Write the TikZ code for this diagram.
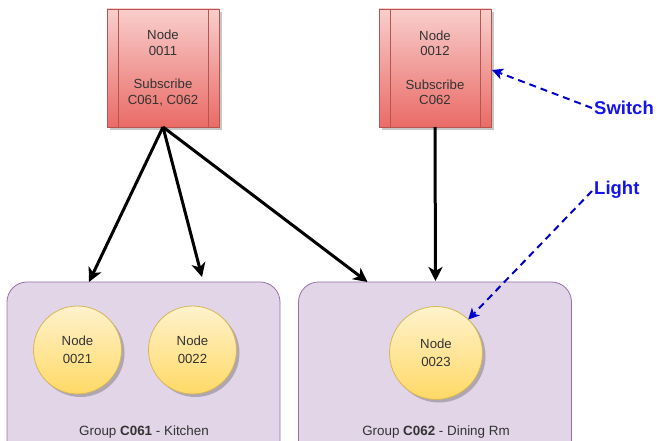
\documentclass[tikz,border=0pt]{standalone}
\usepackage{fontspec}
\setmainfont{Liberation Sans}
\usetikzlibrary{arrows.meta,shadows,calc}
\definecolor{redtop}{RGB}{248,206,204}
\definecolor{redbot}{RGB}{234,107,102}
\definecolor{redline}{RGB}{184,84,80}
\definecolor{yeltop}{RGB}{255,242,204}
\definecolor{yelbot}{RGB}{255,217,102}
\definecolor{yelline}{RGB}{214,182,86}
\definecolor{grpfill}{RGB}{225,213,231}
\definecolor{grpline}{RGB}{150,115,166}
\definecolor{txt}{RGB}{51,51,51}
\definecolor{lblue}{RGB}{0,0,204}
\definecolor{tblue}{RGB}{20,20,235}
\begin{document}
\begin{tikzpicture}[x=1pt,y=-1pt,
  shad/.style={drop shadow={shadow xshift=3pt, shadow yshift=-3pt, fill=black, opacity=0.22}},
  procbox/.style={rectangle, draw=redline, line width=0.8pt, top color=redtop, bottom color=redbot,
    minimum width=112pt, minimum height=118pt, inner sep=0pt, outer sep=0pt, align=center,
    text=txt, font=\fontsize{13.2}{15.5}\selectfont, shad},
  devnode/.style={circle, draw=yelline, line width=0.8pt, top color=yeltop, bottom color=yelbot,
    minimum size=#1, inner sep=0pt, outer sep=0pt, align=center,
    text=txt, font=\fontsize{13.2}{17.5}\selectfont, shad},
  grp/.style={rectangle, rounded corners=20pt, draw=grpline, line width=0.8pt, fill=grpfill,
    minimum width=273pt, minimum height=188pt, inner sep=0pt, outer sep=0pt},
  grplabel/.style={text=txt, font=\fontsize{13.4}{15}\selectfont, inner sep=0pt},
  link/.style={line width=3pt, -{Stealth[length=14pt,width=14pt,inset=4pt]}},
  hint/.style={draw=lblue, line width=2pt, dash pattern=on 7pt off 5pt,
    -{Stealth[length=11pt,width=11pt,inset=3pt,fill=lblue]}},
  hintlabel/.style={text=tblue, font=\fontsize{18.5}{20}\selectfont\bfseries, inner sep=0pt, anchor=west}
]
\useasboundingbox (0,0) rectangle (657,441);
\clip (0,0) rectangle (657,441);

% groups
\node[grp] (g1) at (143.5,376) {};
\node[grp] (g2) at (435,376) {};
\node[grplabel] (g1l) at (144,432) {Group \textbf{C061} - Kitchen};
\node[grplabel] (g2l) at (436,432) {Group \textbf{C062} - Dining Rm};

% device nodes
\node[devnode=88pt] (n21) at (77.5,350) {Node\\0021};
\node[devnode=88pt] (n22) at (192.5,350) {Node\\0022};
\node[devnode=93pt] (n23) at (436,353) {Node\\0023};

% switch nodes
\node[procbox] (n11) at (163,68) {Node\\0011\\[18pt]Subscribe\\C061, C062};
\node[procbox] (n12) at (435,68) {Node\\0012\\[18pt]Subscribe\\C062};
\foreach \n in {n11,n12}{
  \draw[redline, line width=0.8pt] ($(\n.north west)+(11,0)$) -- ($(\n.south west)+(11,0)$);
  \draw[redline, line width=0.8pt] ($(\n.north east)+(-11,0)$) -- ($(\n.south east)+(-11,0)$);
}

% connector end points on group borders
\coordinate (e1) at ($(g1.north west)+(82,0)$);
\coordinate (e2) at ($(g1.north west)+(195,-5)$);
\coordinate (e3) at ($(g2.north west)+(69,0)$);
\coordinate (e4) at ($(g2.north west)+(137,-1)$);

\draw[link] (n11.south) -- (e1);
\draw[link] (n11.south) -- (e2);
\draw[link] (n11.south) -- (e3);
\draw[link] (n12.south) -- (e4);

% labels
\node[hintlabel] (sw) at (594,108) {Switch};
\node[hintlabel] (lt) at (594,190) {Light};
\draw[hint] ($(sw.west)+(-2,0)$) -- ($(n12.east)+(1,2)$);
\draw[hint] ($(lt.west)+(-2,1)$) -- (n23);
\end{tikzpicture}
\end{document}
